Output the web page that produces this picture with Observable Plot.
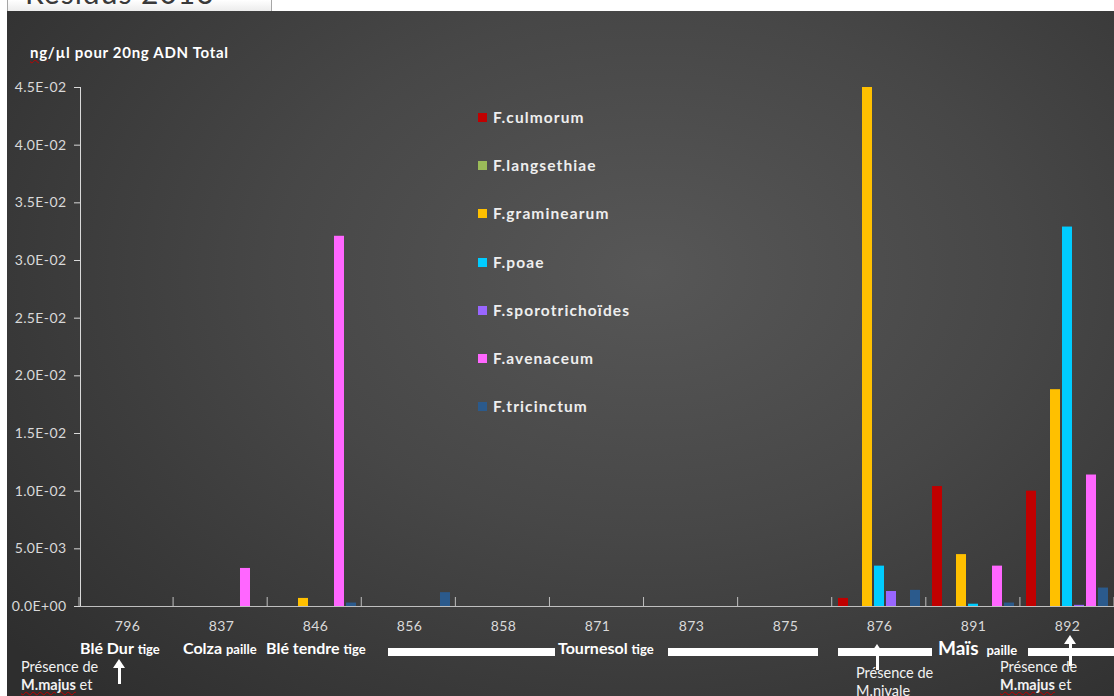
<!DOCTYPE html>
<html>
<head>
<meta charset="utf-8">
<script src="https://cdn.jsdelivr.net/npm/d3@7"></script>
<script src="https://cdn.jsdelivr.net/npm/@observablehq/plot@0.6"></script>
<style>
  html, body { margin: 0; padding: 0; background: #ffffff; }
  body { width: 1114px; height: 696px; position: relative; overflow: hidden; font-family: Lato, "Open Sans", sans-serif; }
  #tab { position: absolute; left: 7px; top: -1px; width: 263px; height: 11px; background: linear-gradient(#ffffff, #ececec); border: 1px solid #a6a6a6; overflow: hidden; }
  #tab span { position: absolute; left: 17px; top: -26px; font-size: 30px; color: #3a3a3a; white-space: nowrap; letter-spacing: 1px; }
  #panel { position: absolute; left: 7px; top: 11px; width: 1107px; height: 685px;
    background: radial-gradient(ellipse 75% 85% at 58% 38%, #575757 0%, #474747 45%, #2e2e2e 100%); overflow: hidden; }
  #chart { position: absolute; left: 0; top: 0; }
  .ov { position: absolute; color: #ffffff; font-weight: bold; white-space: nowrap; line-height: 1; }
  .wavy { text-decoration: underline wavy #c00000; text-decoration-thickness: 1px; }
  .bar { position: absolute; background: #ffffff; height: 8px; }
  .arrow { position: absolute; width: 3px; background: #ffffff; }
  .arrow::before { content: ""; position: absolute; left: -5px; top: -8px; border-left: 6.5px solid transparent; border-right: 6.5px solid transparent; border-bottom: 9px solid #ffffff; }
  .leg { position: absolute; left: 471px; font-size: 15.5px; font-weight: bold; color: #eeeeee; white-space: nowrap; letter-spacing: 1.1px; line-height: 18px; }
  .leg i { display: inline-block; width: 9px; height: 9px; margin-right: 6px; vertical-align: 1px; }
  .note { position: absolute; color: #f2f2f2; font-size: 14.5px; white-space: nowrap; line-height: 18px; }
</style>
</head>
<body>
<div id="tab"><span>Résidus 2016</span></div>
<div id="panel">
  <div id="chart"></div>
</div>
<script>
const samples = ["796", "837", "846", "856", "858", "871", "873", "875", "876", "891", "892"];
const series = ["F.culmorum", "F.langsethiae", "F.graminearum", "F.poae", "F.sporotrichoïdes", "F.avenaceum", "F.tricinctum"];
const colors = ["#c00000", "#9bbb59", "#ffc000", "#00ccff", "#9966ff", "#ff66ff", "#2b5a8c"];
// values per series, aligned with samples (ng/µl pour 20ng ADN Total)
const culmorum        = [0, 0, 0, 0, 0, 0, 0, 0, 0.0007, 0.0104, 0.0100];
const langsethiae     = [0, 0, 0, 0, 0, 0, 0, 0, 0, 0, 0];
const graminearum     = [0, 0, 0.0007, 0, 0, 0, 0, 0, 0.0450, 0.0045, 0.0188];
const poae            = [0, 0, 0, 0, 0, 0, 0, 0, 0.0035, 0.0002, 0.0329];
const sporotrichoides = [0, 0, 0, 0, 0, 0, 0, 0, 0.0013, 0, 0.0001];
const avenaceum       = [0, 0.0033, 0.0321, 0, 0, 0, 0, 0, 0, 0.0035, 0.0114];
const tricinctum      = [0, 0, 0.0003, 0.0012, 0, 0, 0, 0, 0.0014, 0.0003, 0.0016];
const yTicks = [0, 0.005, 0.01, 0.015, 0.02, 0.025, 0.03, 0.035, 0.04, 0.045];

const allValues = [culmorum, langsethiae, graminearum, poae, sporotrichoides, avenaceum, tricinctum];
const rows = [];
samples.forEach((s, i) => series.forEach((name, j) => rows.push({sample: s, series: name, value: allValues[j][i]})));

function fmtE(d) {
  const [m, e] = d.toExponential(1).split("e");
  const n = Math.abs(+e);
  return m.toUpperCase() + "E" + (+e < 0 ? "-" : "+") + String(n).padStart(2, "0");
}

const W = 1107, H = 685, ML = 72, MR = 0, MT = 76, MB = 90;
const chart = Plot.plot({
  width: W, height: H,
  marginLeft: ML, marginRight: MR, marginTop: MT, marginBottom: MB,
  style: {background: "transparent", color: "#d9d9d9", fontFamily: "Lato, 'Open Sans', sans-serif", fontSize: "14px", letterSpacing: "0.4px"},
  facet: {data: rows, x: "sample"},
  fx: {domain: samples, paddingInner: 0, paddingOuter: 0, label: null, tickSize: 0, tickPadding: 15},
  x: {domain: series, paddingInner: 0.15, paddingOuter: 0.3, axis: null},
  y: {domain: [0, 0.045], ticks: yTicks, tickFormat: fmtE, label: null, tickSize: 6, tickPadding: 8, line: true},
  color: {domain: series, range: colors},
  marks: [
    Plot.barY(rows, {x: "series", y: "value", fill: "series"}),
    Plot.ruleY([0], {stroke: "#bfbfbf", strokeWidth: 1.2})
  ]
});
document.getElementById("chart").appendChild(chart);

// category boundary tick marks (Excel style)
const svg = d3.select(chart);
const fxs = d3.scaleBand().domain(samples).range([ML, W - MR]);
const y0 = H - MB;
const bounds = samples.map(s => fxs(s)).concat([W - MR]);
svg.append("g").selectAll("line").data(bounds).join("line")
  .attr("x1", d => d).attr("x2", d => d)
  .attr("y1", y0 - 9).attr("y2", y0)
  .attr("stroke", "#bfbfbf").attr("stroke-width", 1);

// overlays
const panel = document.getElementById("panel");
function add(html) { panel.insertAdjacentHTML("beforeend", html); }

add(`<div class="ov" style="left:23px;top:34px;font-size:15px;letter-spacing:0.7px;"><span class="wavy">ng</span>/µl pour 20ng ADN Total</div>`);

// legend
const legTops = [97, 145, 193, 242, 290, 338, 386];
series.forEach((s, i) => add(`<div class="leg" style="top:${legTops[i]}px"><i style="background:${colors[i]}"></i>${s}</div>`));

// crop annotations (page coords minus panel offset 7,11)
const ox = 7, oy = 11;
function tx(x, y, html, extra = "") { add(`<div class="ov" style="left:${x - ox}px;top:${y - oy}px;${extra}">${html}</div>`); }
tx(80, 640, `<span style="font-size:16px">Blé Dur</span> <span style="font-size:13px">tige</span>`);
tx(183, 640, `<span style="font-size:16px">Colza</span> <span style="font-size:13px">paille</span>`);
tx(266, 640, `<span style="font-size:16px">Blé tendre</span> <span style="font-size:13px">tige</span>`);
tx(558, 640, `<span style="font-size:16px">Tournesol</span> <span style="font-size:13px">tige</span>`);
tx(938, 638, `<span style="font-size:19px">Maïs</span> <span style="font-size:13px;margin-left:4px">paille</span>`);
function bar(x1, x2, y) { add(`<div class="bar" style="left:${x1 - ox}px;width:${x2 - x1}px;top:${y - oy}px"></div>`); }
bar(388, 555, 648); bar(668, 818, 648); bar(838, 932, 648); bar(1028, 1114, 648);
function arrow(x, yTop, yBot) { add(`<div class="arrow" style="left:${x - ox - 1}px;top:${yTop - oy}px;height:${yBot - yTop}px"></div>`); }
arrow(119, 667, 684); arrow(877, 652, 670); arrow(1070, 643, 666);
function note(x, y, html) { add(`<div class="note" style="left:${x - ox}px;top:${y - oy}px">${html}</div>`); }
note(21, 658, `Présence de<br><b class="wavy">M.majus</b> et`);
note(856, 664, `Présence de<br>M.nivale`);
note(1000, 658, `Présence de<br><b class="wavy">M.majus</b> et`);
</script>
</body>
</html>
